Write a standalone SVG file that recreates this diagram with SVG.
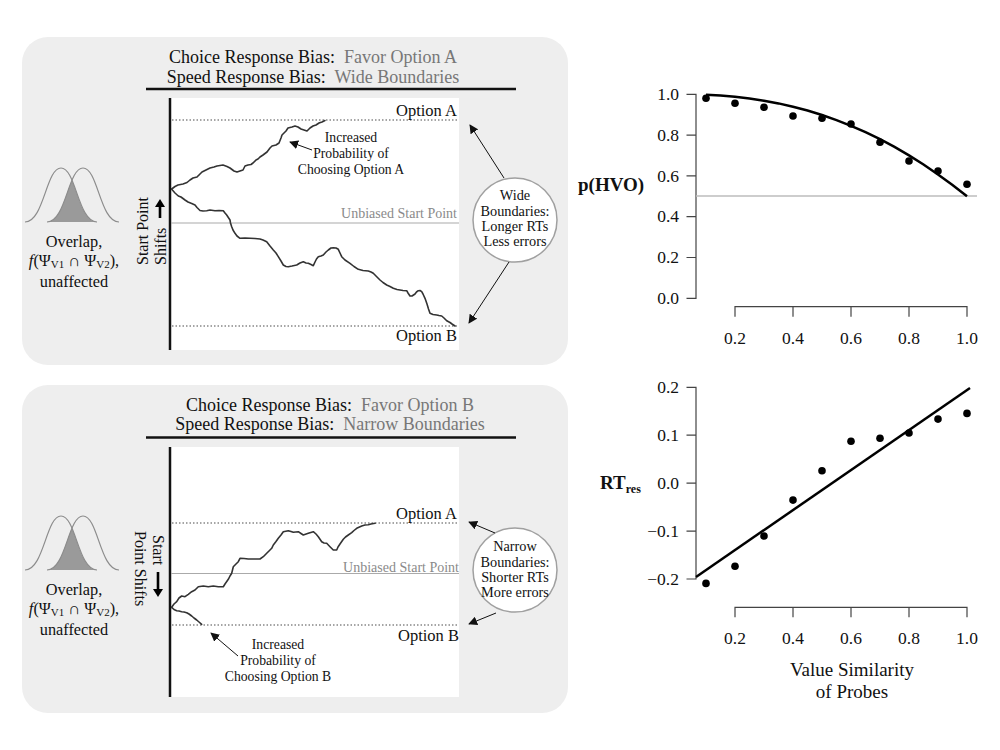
<svg xmlns="http://www.w3.org/2000/svg" width="1000" height="750" viewBox="0 0 1000 750">
<style>
.panel{fill:#eeeeee}
.plotbg{fill:#ffffff}
.t{font-family:"Liberation Serif","Times New Roman",serif;fill:#111}
.g{fill:#777}
.ttl{font-size:18px;text-anchor:middle}
.opt{font-size:16.5px;text-anchor:end}
.unb{font-size:14px;text-anchor:end;fill:#8a8a8a}
.ann{font-size:13.7px;text-anchor:middle}
.circ{fill:#fff;stroke:#a0a0a0;stroke-width:1.5}
.ctext{font-size:14.3px;text-anchor:middle}
.ovt{font-size:16.3px;text-anchor:middle}
.rot{font-size:16px}
.dotl{stroke:#888;stroke-width:1.6;stroke-dasharray:1.5 2;fill:none}
.unbl{stroke:#aaa;stroke-width:1.2}
.walk{fill:none;stroke:#333;stroke-width:1.6;stroke-linejoin:round;stroke-linecap:round}
.vaxis{stroke:#111;stroke-width:2.5}
.rule{stroke:#111;stroke-width:2.5}
.bell{fill:none;stroke:#8c8c8c;stroke-width:1.2}
.ov{fill:#9a9a9a}
.thin{stroke:#111;stroke-width:1;fill:none}
.ax{stroke:#444;stroke-width:1.2;fill:none}
.tick{font-size:17.5px;text-anchor:end}
.xtick{font-size:17.5px;text-anchor:middle}
.lab{font-size:19px;font-weight:bold}
.fit{stroke:#000;stroke-width:2.5;fill:none}
.ref{stroke:#bdbdbd;stroke-width:1.5}
.pt{fill:#000}
</style>
<defs>
<marker id="ah" viewBox="0 0 10 10" refX="9" refY="5" markerWidth="9" markerHeight="9" markerUnits="userSpaceOnUse" orient="auto">
<path d="M0,0 L10,5 L0,10 Z" fill="#111"/>
</marker>
<clipPath id="bellclip">
<path d="M25,222 C44,222 46,168 61,168 C76,168 78,222 97,222 Z"/>
</clipPath>
</defs>

<g id="panel-top">
<rect class="panel" x="22" y="37" width="546" height="328" rx="26"/>
<rect class="plotbg" x="170" y="98" width="289" height="252"/>
</g>
<g id="panel-bottom">
<rect class="panel" x="22" y="385" width="546" height="328" rx="26"/>
<rect class="plotbg" x="170" y="447" width="289" height="250"/>
</g>

<g id="title-top">
<text class="t ttl" x="313" y="63">Choice Response Bias:&#160; <tspan class="g">Favor Option A</tspan></text>
<text class="t ttl" x="313" y="83">Speed Response Bias:&#160; <tspan class="g">Wide Boundaries</tspan></text>
<line class="rule" x1="146" y1="89" x2="516" y2="89"/>
</g>

<g id="overlap-top">
<path class="ov" clip-path="url(#bellclip)" d="M47,222 C66,222 68,168 83,168 C98,168 100,222 119,222 Z"/>
<path class="bell" d="M25,222 C44,222 46,168 61,168 C76,168 78,222 97,222"/>
<path class="bell" d="M47,222 C66,222 68,168 83,168 C98,168 100,222 119,222"/>
<text class="t ovt" x="74" y="247">Overlap,</text>
<text class="t ovt" x="74" y="266"><tspan font-style="italic">f</tspan>(Ψ<tspan font-size="11" dy="2">V1</tspan><tspan dy="-2"> ∩ Ψ</tspan><tspan font-size="11" dy="2">V2</tspan><tspan dy="-2">),</tspan></text>
<text class="t ovt" x="74" y="287">unaffected</text>
</g>

<g id="shift-top">
<text class="t rot" transform="translate(148,265) rotate(-90)">Start Point</text>
<text class="t rot" transform="translate(166,265) rotate(-90)">Shifts</text>
<path d="M158.7,218 L158.7,207 L155,207 L160,199 L165,207 L161.3,207 L161.3,218 Z" fill="#000"/>
</g>

<g id="ddm-top">
<line class="vaxis" x1="170" y1="98" x2="170" y2="350"/>
<line class="dotl" x1="172" y1="120" x2="457" y2="120"/>
<line class="unbl" x1="171" y1="223" x2="459" y2="223"/>
<line class="dotl" x1="172" y1="326" x2="457" y2="326"/>
<text class="t opt" x="457" y="116">Option A</text>
<text class="t unb" x="457" y="218">Unbiased Start Point</text>
<text class="t opt" x="457" y="341">Option B</text>
<path class="walk" d="M171.7,189 L175,186.5 L178,185 L183,184 L187,182.5 L190,180 L193,178 L197,177 L200,174 L202,172 L206,170 L210,168 L214,167 L217,166 L220,165.5 L223,165 L227,166.5 L230,168 L234,171 L237,172 L240,171 L243,170 L245,166 L248,165 L251,164.5 L253,163 L256,160 L258,159 L260,157 L263,155 L267,152 L270,148 L272,146 L276,145 L279,143 L281,138 L282,135 L284,133 L286,131 L288,128 L292,127 L295,126 L298,127 L301,129 L304,130 L307,131 L310,128 L313,126 L316,125 L319,123 L322,122 L325,120.5"/>
<path class="walk" d="M171.7,189.3 L175,193 L178.3,196 L181,197 L185,200 L188,202 L191.7,203.5 L195,205 L197,207.5 L200,210.5 L203,211 L206.7,210.7 L210,210 L215,210.7 L219,210.5 L223.3,210.7 L225,213 L226.7,215 L228,217 L230,220 L230.5,223 L231.7,226.7 L233,230 L235,233.3 L237,236 L240,238.3 L245,238 L250,238.3 L255,238.5 L260,239 L263,240 L266.7,241.7 L270,246 L273.3,250 L276,253 L278.3,256.7 L281,261 L283.3,265 L286,266.5 L288.3,266.7 L292,266 L296.7,265 L300,263 L303.3,261.7 L306,263 L308.3,263.3 L311,264.5 L313.3,265.7 L315,262 L316.5,259 L318.3,256.7 L321,256 L323.3,255 L326,252 L328.3,250 L331,248 L333.3,247.7 L336,248 L338.3,249.3 L340,253 L341.7,256.7 L345,260 L350,263.3 L354,266.5 L358.3,269.3 L363,270.5 L368.3,271 L371,272 L373.3,273.3 L376,276 L380,280 L383,282.5 L386.7,285 L390,286.5 L393.3,288.3 L397,289.5 L400,290 L403,290.5 L406.7,290.7 L408,293 L410,296 L412,296 L415,294 L416.5,292 L418.3,290.7 L420,290.5 L421.7,291.7 L423,294 L425,298.3 L427,304 L428.5,309 L430,313.3 L433,314.5 L436.7,315 L439,315.5 L441.7,316 L444,318 L446.7,320.7 L450,322.5 L452,324 L455,326"/>
</g>

<g id="annot-top">
<text class="t ann" x="351" y="142">Increased</text>
<text class="t ann" x="351" y="158">Probability of</text>
<text class="t ann" x="351" y="174">Choosing Option A</text>
<line class="thin" x1="312" y1="150" x2="290" y2="142" marker-end="url(#ah)"/>
</g>

<g id="bounds-top">
<circle class="circ" cx="515" cy="220" r="42"/>
<text class="t ctext" x="515" y="200">Wide</text>
<text class="t ctext" x="515" y="216">Boundaries:</text>
<text class="t ctext" x="515" y="231">Longer RTs</text>
<text class="t ctext" x="515" y="246">Less errors</text>
</g>

<g id="title-bottom">
<text class="t ttl" x="330" y="411">Choice Response Bias:&#160; <tspan class="g">Favor Option B</tspan></text>
<text class="t ttl" x="330" y="430">Speed Response Bias:&#160; <tspan class="g">Narrow Boundaries</tspan></text>
<line class="rule" x1="146" y1="437.5" x2="516" y2="437.5"/>
</g>

<g id="overlap-bottom" transform="translate(0,348)">
<path class="ov" clip-path="url(#bellclip)" d="M47,222 C66,222 68,168 83,168 C98,168 100,222 119,222 Z"/>
<path class="bell" d="M25,222 C44,222 46,168 61,168 C76,168 78,222 97,222"/>
<path class="bell" d="M47,222 C66,222 68,168 83,168 C98,168 100,222 119,222"/>
<text class="t ovt" x="74" y="247">Overlap,</text>
<text class="t ovt" x="74" y="266"><tspan font-style="italic">f</tspan>(Ψ<tspan font-size="11" dy="2">V1</tspan><tspan dy="-2"> ∩ Ψ</tspan><tspan font-size="11" dy="2">V2</tspan><tspan dy="-2">),</tspan></text>
<text class="t ovt" x="74" y="287">unaffected</text>
</g>

<g id="shift-bottom">
<text class="t rot" transform="translate(153,535) rotate(90)">Start</text>
<text class="t rot" transform="translate(135,531) rotate(90)">Point Shifts</text>
<path d="M156.7,572 L156.7,589 L153,589 L158,597 L163,589 L159.3,589 L159.3,572 Z" fill="#000"/>
</g>

<g id="ddm-bottom">
<line class="vaxis" x1="170" y1="447" x2="170" y2="697"/>
<line class="dotl" x1="172" y1="523" x2="457" y2="523"/>
<line class="unbl" x1="171" y1="573.5" x2="459" y2="573.5"/>
<line class="dotl" x1="172" y1="625" x2="457" y2="625"/>
<text class="t opt" x="457" y="519">Option A</text>
<text class="t unb" x="459" y="572">Unbiased Start Point</text>
<text class="t opt" x="459" y="641">Option B</text>
<path class="walk" d="M171.7,607.3 L174,604 L176.7,601.7 L179,598 L181.7,596 L185,596.7 L188.3,594.3 L191.7,591.7 L195,590 L198.3,586.7 L203.3,586 L208.3,586.7 L213.3,586 L218.3,586.7 L223.3,586.7 L225,584 L228.3,579.3 L230,576 L231.7,573.3 L232.5,570 L233.3,566.7 L236,564 L238.3,561.7 L240,558.3 L244,558.5 L248.3,559 L254,559 L260,559 L263.3,556.7 L266.7,553.3 L269,551 L271.7,548.3 L273.3,545 L276,541.5 L278.3,538.3 L281,535 L283.3,531.7 L288.3,530.7 L291,531.5 L293.3,532.3 L298.3,531.7 L301,533.5 L303.3,535 L308.3,533.3 L313.3,531.7 L316,534 L318.3,536.7 L321.7,541.7 L324,543 L326.7,543.3 L330,546.7 L333.3,550 L336.7,550 L338,547 L340,544 L343.3,539.3 L345.5,537 L348.3,535 L351.7,532.7 L354,530.5 L356.7,528.3 L361.7,526 L365,525 L368.3,524.7 L371,524 L375,523.3"/>
<path class="walk" d="M171.7,607.3 L174,609.5 L176.7,610.7 L179,611 L181.7,611.7 L184,612 L186.7,612.7 L189,614 L191.7,616 L194,618 L196.7,620 L199,622 L201.7,624.3"/>
</g>

<g id="annot-bottom">
<text class="t ann" x="278" y="649">Increased</text>
<text class="t ann" x="278" y="665">Probability of</text>
<text class="t ann" x="278" y="681">Choosing Option B</text>
<line class="thin" x1="238" y1="656" x2="211" y2="633" marker-end="url(#ah)"/>
</g>

<g id="bounds-bottom">
<circle class="circ" cx="515" cy="570" r="42"/>
<text class="t ctext" x="515" y="551">Narrow</text>
<text class="t ctext" x="515" y="567">Boundaries:</text>
<text class="t ctext" x="515" y="582">Shorter RTs</text>
<text class="t ctext" x="515" y="597">More errors</text>
</g>

<g id="connectors">
<line class="thin" x1="504" y1="178" x2="470" y2="125" marker-end="url(#ah)"/>
<line class="thin" x1="509" y1="262" x2="469" y2="323" marker-end="url(#ah)"/>
<line class="thin" x1="495" y1="533" x2="469" y2="522" marker-end="url(#ah)"/>
<line class="thin" x1="496" y1="613" x2="469" y2="624" marker-end="url(#ah)"/>
</g>

<g id="plot-hvo">
<text class="t lab" x="578" y="191">p(HVO)</text>
<path class="ax" d="M686.5,94.3 H696 V298.3 H686.5 M686.5,135.1 H696 M686.5,175.9 H696 M686.5,216.7 H696 M686.5,257.5 H696"/>
<path class="ax" d="M735,316.7 V306.7 H967 V316.7 M793,306.7 V316.7 M851,306.7 V316.7 M909,306.7 V316.7"/>
<text class="t tick" x="679" y="100">1.0</text>
<text class="t tick" x="679" y="140.8">0.8</text>
<text class="t tick" x="679" y="181.6">0.6</text>
<text class="t tick" x="679" y="222.4">0.4</text>
<text class="t tick" x="679" y="263.2">0.2</text>
<text class="t tick" x="679" y="304">0.0</text>
<text class="t xtick" x="735" y="344">0.2</text>
<text class="t xtick" x="793" y="344">0.4</text>
<text class="t xtick" x="851" y="344">0.6</text>
<text class="t xtick" x="909" y="344">0.8</text>
<text class="t xtick" x="967" y="344">1.0</text>
<line class="ref" x1="696" y1="196" x2="977" y2="196"/>
<path class="fit" d="M706,94.8 L720.5,95.6 L735,96.8 L749.5,98.5 L764,100.7 L778.5,103.4 L793,106.8 L807.5,110.5 L822,115 L836.5,120.1 L851,125.8 L865.5,132.2 L880,139.2 L894.5,146.9 L909,155.4 L923.5,164.5 L938,174.4 L952.5,184.9 L967,196.3"/>
<circle class="pt" cx="706" cy="98.3" r="3.8"/>
<circle class="pt" cx="735" cy="103.3" r="3.8"/>
<circle class="pt" cx="764" cy="107.3" r="3.8"/>
<circle class="pt" cx="793" cy="116" r="3.8"/>
<circle class="pt" cx="822" cy="118.3" r="3.8"/>
<circle class="pt" cx="851" cy="124" r="3.8"/>
<circle class="pt" cx="880" cy="142.3" r="3.8"/>
<circle class="pt" cx="909" cy="161" r="3.8"/>
<circle class="pt" cx="938" cy="171" r="3.8"/>
<circle class="pt" cx="967" cy="184.3" r="3.8"/>
</g>

<g id="plot-rt">
<text class="t lab" x="600" y="489">RT<tspan font-size="12" dy="4">res</tspan></text>
<path class="ax" d="M686.5,387.3 H696 V579 H686.5 M686.5,435.2 H696 M686.5,483.2 H696 M686.5,531.1 H696"/>
<path class="ax" d="M735,617.3 V607.3 H967 V617.3 M793,607.3 V617.3 M851,607.3 V617.3 M909,607.3 V617.3"/>
<text class="t tick" x="679" y="393">0.2</text>
<text class="t tick" x="679" y="441">0.1</text>
<text class="t tick" x="679" y="489">0.0</text>
<text class="t tick" x="679" y="537">−0.1</text>
<text class="t tick" x="679" y="585">−0.2</text>
<text class="t xtick" x="735" y="644">0.2</text>
<text class="t xtick" x="793" y="644">0.4</text>
<text class="t xtick" x="851" y="644">0.6</text>
<text class="t xtick" x="909" y="644">0.8</text>
<text class="t xtick" x="967" y="644">1.0</text>
<line class="fit" x1="696" y1="577" x2="970" y2="388"/>
<circle class="pt" cx="706" cy="583.4" r="3.8"/>
<circle class="pt" cx="735" cy="566.2" r="3.8"/>
<circle class="pt" cx="764" cy="536" r="3.8"/>
<circle class="pt" cx="793" cy="500.1" r="3.8"/>
<circle class="pt" cx="822" cy="470.8" r="3.8"/>
<circle class="pt" cx="851" cy="441.2" r="3.8"/>
<circle class="pt" cx="880" cy="438.3" r="3.8"/>
<circle class="pt" cx="909" cy="433" r="3.8"/>
<circle class="pt" cx="938" cy="419.1" r="3.8"/>
<circle class="pt" cx="967" cy="413.4" r="3.8"/>
<text class="t xtick" style="font-size:19px" x="852" y="676">Value Similarity</text>
<text class="t xtick" style="font-size:19px" x="852" y="698">of Probes</text>
</g>
</svg>
